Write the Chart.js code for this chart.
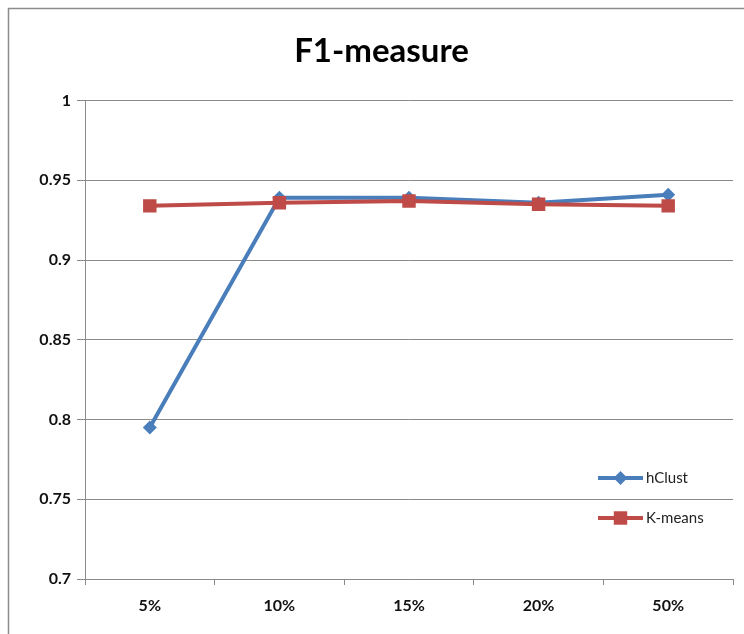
<!DOCTYPE html>
<html>
<head>
<meta charset="utf-8">
<script src="https://cdn.jsdelivr.net/npm/chart.js@4"></script>
<style>
  html, body { margin: 0; padding: 0; background: #ffffff; overflow: hidden; }
  #wrap { width: 744px; height: 634px; position: relative; }
  #chart { display: block; }
</style>
</head>
<body>
<div id="wrap"><canvas id="chart" width="744" height="634"></canvas></div>
<script>
// Sample ratios on the x axis
const categories = ['5%', '10%', '15%', '20%', '50%'];

// F1-measure per method
const hClust = [0.795, 0.939, 0.939, 0.936, 0.941];
const kMeans = [0.934, 0.936, 0.937, 0.935, 0.934];

// Y axis range and step
const yMin = 0.7;
const yMax = 1;
const yStep = 0.05;

const BLUE = '#4a7ebb';
const RED = '#be4b48';
const GRID = '#8a8a8a';
const FONT = 'Lato, "Liberation Sans", sans-serif';

// Gray frame edges along the top and the left of the figure
const framePlugin = {
  id: 'frame',
  beforeDraw(chart) {
    const ctx = chart.ctx;
    ctx.save();
    ctx.fillStyle = '#ffffff';
    ctx.fillRect(0, 0, chart.width, chart.height);
    ctx.strokeStyle = '#8c8c8c';
    ctx.lineWidth = 1.5;
    ctx.beginPath();
    ctx.moveTo(8.5, chart.height);
    ctx.lineTo(8.5, 8.5);
    ctx.lineTo(chart.width, 8.5);
    ctx.stroke();
    ctx.restore();
  }
};

// Legend drawn inside the plot area, lower right
const innerLegend = {
  id: 'innerLegend',
  afterDatasetsDraw(chart) {
    const ctx = chart.ctx;
    const x0 = 598, x1 = 643, textX = 646;
    const rows = [478, 518];
    ctx.save();
    chart.data.datasets.forEach((ds, i) => {
      const y = rows[i];
      ctx.strokeStyle = ds.borderColor;
      ctx.lineWidth = ds.borderWidth;
      ctx.beginPath();
      ctx.moveTo(x0, y);
      ctx.lineTo(x1, y);
      ctx.stroke();
      ctx.fillStyle = ds.pointBackgroundColor;
      ctx.strokeStyle = ds.pointBorderColor;
      Chart.helpers.drawPoint(ctx, {
        pointStyle: ds.pointStyle,
        radius: ds.pointRadius,
        rotation: 0,
        borderWidth: 0
      }, (x0 + x1) / 2, y);
      ctx.fillStyle = '#222222';
      ctx.font = '15px ' + FONT;
      ctx.textAlign = 'left';
      ctx.textBaseline = 'middle';
      ctx.fillText(ds.label, textX, y);
    });
    ctx.restore();
  }
};

new Chart(document.getElementById('chart'), {
  type: 'line',
  data: {
    labels: categories,
    datasets: [
      {
        label: 'hClust',
        data: hClust,
        borderColor: BLUE,
        backgroundColor: BLUE,
        pointBackgroundColor: BLUE,
        pointBorderColor: BLUE,
        borderWidth: 4,
        pointStyle: 'rectRot',
        pointRadius: 7,
        pointBorderWidth: 0,
        tension: 0,
        order: 1
      },
      {
        label: 'K-means',
        data: kMeans,
        borderColor: RED,
        backgroundColor: RED,
        pointBackgroundColor: RED,
        pointBorderColor: RED,
        borderWidth: 4,
        pointStyle: 'rect',
        pointRadius: 9.5,
        pointBorderWidth: 0,
        tension: 0,
        order: 0
      }
    ]
  },
  options: {
    responsive: false,
    animation: false,
    layout: { padding: { left: 30, right: 11, top: 0, bottom: 0 } },
    plugins: {
      legend: { display: false },
      tooltip: { enabled: false },
      title: {
        display: true,
        text: 'F1-measure',
        color: '#000000',
        font: { family: FONT, size: 33, weight: 'bold' },
        padding: { top: 32, bottom: 29 }
      }
    },
    scales: {
      x: {
        offset: true,
        grid: {
          offset: true,
          drawOnChartArea: false,
          drawTicks: true,
          tickLength: 6,
          color: GRID,
          lineWidth: 1
        },
        border: { display: true, color: GRID, width: 1 },
        ticks: {
          color: '#111111',
          font: { family: FONT, size: 16, weight: 'bold' },
          padding: 11,
          maxRotation: 0
        },
        afterFit(scale) { scale.height = 55; }
      },
      y: {
        min: yMin,
        max: yMax,
        grid: {
          color: GRID,
          lineWidth: 1,
          drawTicks: true,
          tickLength: 8
        },
        border: { display: true, color: GRID, width: 1 },
        ticks: {
          stepSize: yStep,
          color: '#111111',
          font: { family: FONT, size: 16, weight: 'bold' },
          padding: 6,
          callback: (v) => String(Math.round(v * 100) / 100)
        },
        afterFit(scale) { scale.width = 55; }
      }
    }
  },
  plugins: [framePlugin, innerLegend]
});
</script>
</body>
</html>
